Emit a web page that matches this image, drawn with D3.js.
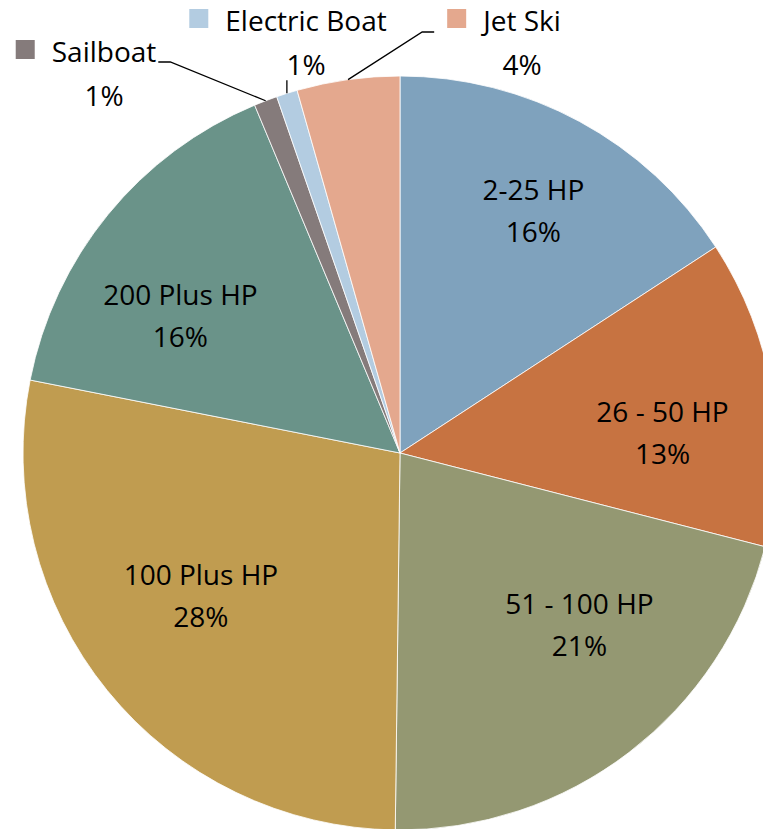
<!DOCTYPE html>
<html>
<head>
<meta charset="utf-8">
<script src="https://cdn.jsdelivr.net/npm/d3@7"></script>
<style>
  body { margin: 0; background: #fff; }
  svg { display: block; }
  text { font-family: "Open Sans", "Noto Sans", sans-serif; fill: #000; }
</style>
</head>
<body>
<div id="chart"></div>
<script>
// categories and their shares, clockwise from 12 o'clock
var categories = ["2-25 HP", "26 - 50 HP", "51 - 100 HP", "100 Plus HP", "200 Plus HP", "Sailboat", "Electric Boat", "Jet Ski"];
var shares = [15.8, 13.2, 21.2, 27.9, 15.6, 1.0, 0.9, 4.4];
var colors = ["#7fa2bd", "#c77341", "#949872", "#c09c50", "#6a9389", "#857b7b", "#b3cce1", "#e4a88e"];

// small slices get their label outside, with a key square and a leader line
var outsideLabels = ["Sailboat", "Electric Boat", "Jet Ski"];

var width = 763, height = 829;
var cx = 400, cy = 453, radius = 377;

var svg = d3.select("#chart").append("svg")
	.attr("width", width)
	.attr("height", height);

var total = d3.sum(shares);
var data = categories.map(function (c, i) {
	return { name: c, value: shares[i], color: colors[i], pct: Math.round(shares[i] / total * 100) + "%" };
});

var pie = d3.pie().sort(null).value(function (d) { return d.value; });
var arc = d3.arc().innerRadius(0).outerRadius(radius);
var labelArc = d3.arc().innerRadius(radius * 0.687).outerRadius(radius * 0.687);
var edgeArc = d3.arc().innerRadius(radius).outerRadius(radius);

var arcs = pie(data);

var g = svg.append("g").attr("transform", "translate(" + cx + "," + cy + ")");

//Slices
g.selectAll("path.slice").data(arcs).enter().append("path")
	.attr("class", "slice")
	.attr("d", arc)
	.attr("fill", function (d) { return d.data.color; })
	.attr("stroke", "#fff")
	.attr("stroke-width", 0.8);

//Labels inside the big slices, nudged off the centroid the way the original "best fit" put them
var labelNudge = {
	"2-25 HP": [10, -21],
	"26 - 50 HP": [7, 15],
	"51 - 100 HP": [22, -41],
	"100 Plus HP": [2, -27],
	"200 Plus HP": [-19, 20]
};
var fs = 28;
arcs.filter(function (d) { return outsideLabels.indexOf(d.data.name) < 0; }).forEach(function (d) {
	var c = labelArc.centroid(d);
	var n = labelNudge[d.data.name] || [0, 0];
	var x = c[0] + n[0], y = c[1] + n[1];
	var t = g.append("text")
		.attr("text-anchor", "middle")
		.attr("font-size", fs);
	t.append("tspan").attr("x", x).attr("y", y - 4).text(d.data.name);
	t.append("tspan").attr("x", x).attr("y", y + 38).text(d.data.pct);
});

//Outside labels: where each text block sits and how its leader line leaves it
var calloutLayout = {
	"Sailboat": { x: 104, y: 62, leader: "right" },
	"Electric Boat": { x: 306, y: 31, leader: "down" },
	"Jet Ski": { x: 522, y: 31, leader: "left" }
};

arcs.filter(function (d) { return outsideLabels.indexOf(d.data.name) >= 0; }).forEach(function (d) {
	var L = calloutLayout[d.data.name];
	var name = svg.append("text")
		.attr("x", L.x).attr("y", L.y)
		.attr("text-anchor", "middle")
		.attr("font-size", fs)
		.text(d.data.name);
	svg.append("text")
		.attr("x", L.x).attr("y", L.y + 44)
		.attr("text-anchor", "middle")
		.attr("font-size", fs)
		.text(d.data.pct);

	var w = name.node().getComputedTextLength();
	var left = L.x - w / 2, right = L.x + w / 2;

	svg.append("rect")
		.attr("x", left - 36).attr("y", L.y - 22)
		.attr("width", 19).attr("height", 19)
		.attr("fill", d.data.color);

	var p = edgeArc.centroid(d);
	var ex = cx + p[0], ey = cy + p[1];
	var pts;
	if (L.leader == "right") {
		pts = [[right + 2, L.y], [right + 14, L.y], [ex, ey]];
	} else if (L.leader == "left") {
		pts = [[left - 49, L.y + 1], [left - 61, L.y + 1], [ex, ey]];
	} else {
		pts = [[ex, ey - 13], [ex, ey]];
	}
	svg.append("path")
		.attr("d", d3.line()(pts))
		.attr("fill", "none")
		.attr("stroke", "#000")
		.attr("stroke-width", 1.3);
});
</script>
</body>
</html>
